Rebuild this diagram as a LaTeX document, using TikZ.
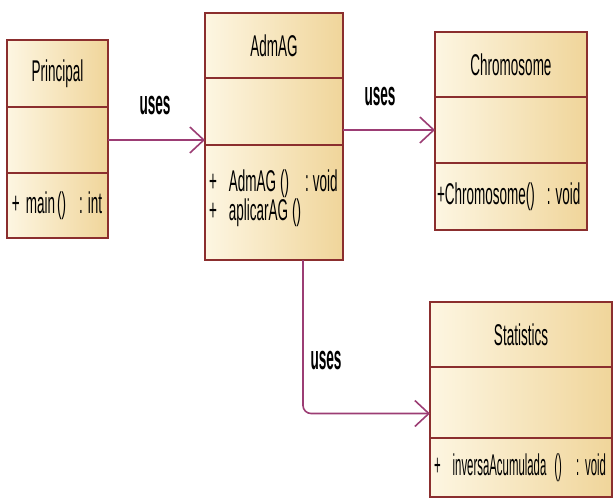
\documentclass[tikz,border=0pt]{standalone}
\usepackage{fontspec}
\setmainfont[FakeStretch=0.45]{Liberation Sans}
\newfontfamily\narrowfont[FakeStretch=0.38]{Liberation Sans}
\newfontfamily\usesfont[FakeStretch=0.40]{Liberation Sans}
\usetikzlibrary{positioning,arrows.meta}
\definecolor{umlborder}{HTML}{8B2E2E}
\definecolor{umllight}{HTML}{FDF6E2}
\definecolor{umldark}{HTML}{F0D59A}
\definecolor{useslink}{HTML}{9C3D74}
\newcommand{\gap}[1]{\hspace{#1pt}}
\tikzset{
  umlpart/.style={rectangle, draw=umlborder, line width=2.6pt, outer sep=0pt, inner sep=4pt,
    left color=umllight, right color=umldark, font=\fontsize{30}{27}\selectfont},
  useslabel/.style={font=\fontsize{34}{34}\usesfont\bfseries},
  uses/.style={draw=useslink, line width=1.6pt, -{Straight Barb[length=14pt,width=26pt]}}
}
\begin{document}
\begin{tikzpicture}[x=1pt,y=-1pt]
  \useasboundingbox (0,0) rectangle (614,501);
  % Principal
  \node[umlpart, minimum width=101pt, minimum height=67pt, anchor=north west] (principal) at (7,40) {Principal};
  \node[umlpart, minimum width=101pt, minimum height=66pt, below=0pt of principal] (principal-att) {};
  \node[umlpart, text width=97pt, inner sep=2pt, minimum height=65pt, align=left, below=0pt of principal-att] (principal-ops)
    {\mbox{\gap{3}+\gap{6}main\gap{2}()\gap{13}:\gap{5}int}};
  % AdmAG
  \node[umlpart, minimum width=138pt, minimum height=65pt, anchor=north west] (admag) at (205,13) {AdmAG};
  \node[umlpart, minimum width=138pt, minimum height=67pt, below=0pt of admag] (admag-att) {};
  \node[umlpart, text width=134pt, inner sep=2pt, minimum height=115pt, align=left, below=0pt of admag-att] (admag-ops)
    {\mbox{\gap{2}+\gap{12}AdmAG\gap{4}()\gap{16}:\gap{4}void}\\\mbox{\gap{2}+\gap{12}aplicarAG\gap{4}()}\\[-12pt]\mbox{}};
  % Chromosome
  \node[umlpart, minimum width=152pt, minimum height=65pt, anchor=north west] (chromo) at (435,32) {Chromosome};
  \node[umlpart, minimum width=152pt, minimum height=66pt, below=0pt of chromo] (chromo-att) {};
  \node[umlpart, text width=148pt, inner sep=2pt, minimum height=67pt, align=left, below=0pt of chromo-att] (chromo-ops)
    {\mbox{+Chromosome()\gap{12}:\gap{5}void}};
  % Statistics
  \node[umlpart, minimum width=182pt, minimum height=65pt, anchor=north west] (stats) at (430,302) {Statistics};
  \node[umlpart, minimum width=182pt, minimum height=71pt, below=0pt of stats] (stats-att) {};
  \node[umlpart, text width=178pt, inner sep=2pt, minimum height=59pt, align=left, below=0pt of stats-att] (stats-ops)
    {\mbox{\narrowfont\gap{2}+\gap{12}inversaAcumulada\gap{8}()\gap{14}:\gap{6}void}};
  % links
  \draw[uses] (principal-att.east) -- (principal-att.east -| admag-att.west);
  \draw[uses] (admag-att.east |- chromo-att.west) -- (chromo-att.west);
  \draw[uses, rounded corners=8pt] ([xshift=29pt]admag-ops.south) |- ([yshift=-11pt]stats-att.west);
  \node[useslabel] (uses-a) at (155,106) {uses};
  \node[useslabel] (uses-b) at (380,97) {uses};
  \node[useslabel] (uses-c) at (326,361) {uses};
\end{tikzpicture}
\end{document}
